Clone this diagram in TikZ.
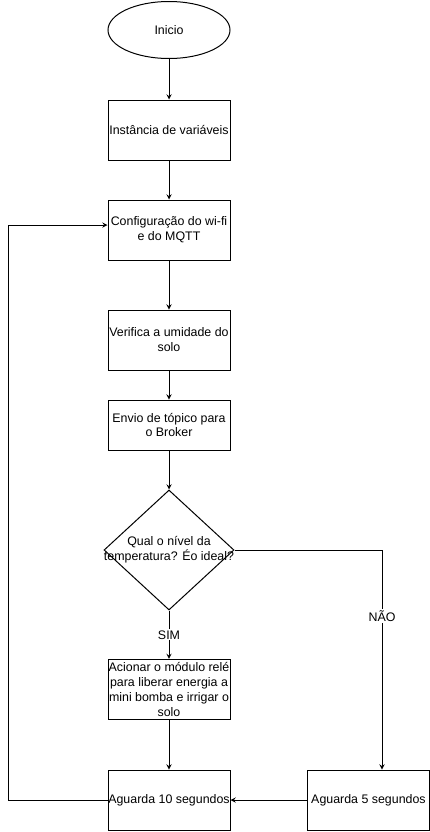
\documentclass[tikz,border=0pt]{standalone}
\usepackage{fontspec}
\setmainfont{Liberation Sans}
\usetikzlibrary{shapes.geometric}

\begin{document}
\begin{tikzpicture}[x=0.75pt,y=-0.75pt,line width=0.75pt,font=\fontsize{9.3}{11.2}\selectfont,
caixa/.style={rectangle,draw,minimum width=91.5pt,minimum height=45pt,inner xsep=0pt,inner ysep=1pt,align=center}]
\useasboundingbox (0,0) rectangle (429,832);
\node [ellipse,draw,minimum width=91.5pt,minimum height=42.75pt,inner sep=0pt] (inicio) at (169,30) {Inicio};
\node [caixa,below of=inicio,node distance=75pt] (inst) {Instância de variáveis};
\node [caixa,below of=inst,node distance=75pt] (config) {Configuração do wi-fi\\e do MQTT};
\node [caixa,below of=config,node distance=82.5pt] (verif) {Verifica a umidade do\\solo};
\node [caixa,minimum height=37.5pt,below of=verif,node distance=63.75pt] (envio) {Envio de tópico para\\o Broker};
\node [diamond,draw,minimum width=97.5pt,minimum height=90pt,inner sep=0pt,below of=envio,node distance=93.75pt,
label={[align=center]center:Qual o nível da\\temperatura? Éo ideal?}] (decisao) {};
\node [caixa,below of=decisao,node distance=104.6pt] (acionar) {Acionar o módulo relé\\para liberar energia a\\mini bomba e irrigar o\\solo};
\node [caixa,below of=acionar,node distance=82.9pt] (ag10) {Aguarda 10 segundos};
\node [caixa,right of=ag10,node distance=149.6pt] (ag5) {Aguarda 5 segundos};
\coordinate (canto) at (382,550);
\coordinate (volta) at (8,225);
\draw (inicio)[-stealth] -- (inst);
\draw (inst)[-stealth] -- (config);
\draw (config)[-stealth] -- (verif);
\draw (verif)[-stealth] -- (envio);
\draw (envio)[-stealth] -- (decisao);
\draw (decisao)[-stealth] -- node[fill=white,inner sep=1pt]{SIM} (acionar);
\draw (decisao.east) -- (canto);
\draw (canto)[-stealth] -- node[pos=0.3,fill=white,inner sep=1pt]{NÃO} (canto |- ag5.north);
\draw (acionar)[-stealth] -- (ag10);
\draw (ag5)[-stealth] -- (ag10);
\draw (ag10.west) -| (volta);
\draw (volta)[-stealth] -- (volta -| config.west);
\end{tikzpicture}
\end{document}
